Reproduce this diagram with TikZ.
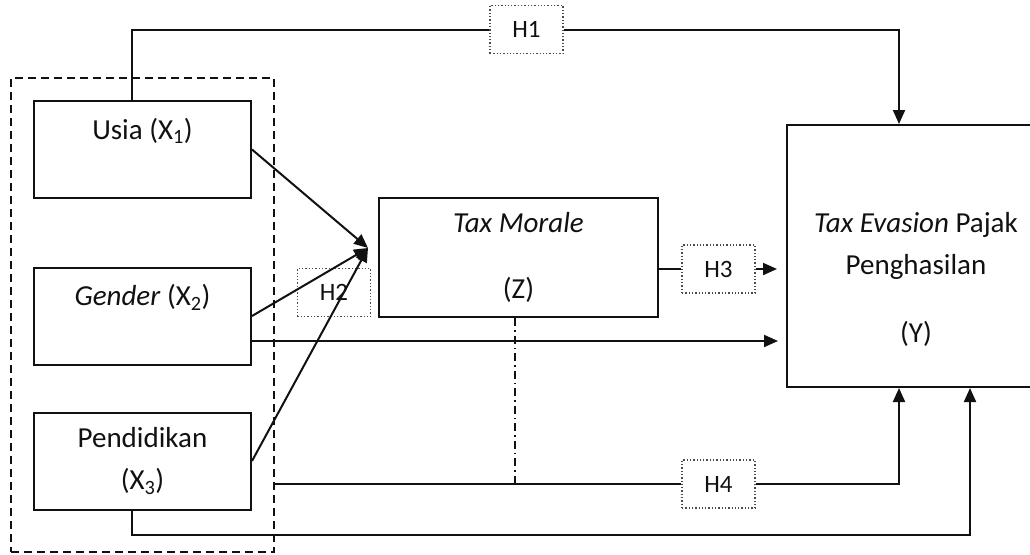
\documentclass[tikz,border=0pt]{standalone}
\usepackage{fontspec}
\setmainfont{Carlito}
\usetikzlibrary{arrows.meta,positioning,calc}
\definecolor{DiagramInk}{HTML}{111111}
\definecolor{DiagramDot}{HTML}{4A4A4A}

\begin{document}
\begin{tikzpicture}[x=1pt,y=-1pt,
  varbox/.style={draw=DiagramInk,line width=2pt,align=center,text=DiagramInk,inner sep=0pt,font=\fontsize{29}{42}\selectfont},
  hbox/.style={draw=DiagramDot,line width=1.3pt,dotted,minimum width=73pt,minimum height=48pt,text=DiagramInk,font=\fontsize{25}{28}\selectfont},
  groupbox/.style={draw=DiagramInk,line width=2pt,dash pattern=on 8pt off 5pt,minimum width=263pt,minimum height=474pt},
  link/.style={DiagramInk,line width=2pt},
  arr/.style={link,-{Triangle[length=14pt,width=12pt]}}]
  \useasboundingbox (0,0) rectangle (1030,554);
  \clip (0,0) rectangle (1030,554);
  \node[groupbox] (grp) at (142.5,315) {};
  \node[varbox,minimum width=217pt,minimum height=97pt] (usia) at (142.5,149.5) {Usia (X\textsubscript{1})\\~};
  \node[varbox,minimum width=217pt,minimum height=97pt] (gender) at (142.5,316) {\textit{Gender} (X\textsubscript{2})\\~};
  \node[varbox,minimum width=217pt,minimum height=97pt] (pend) at (142.5,461) {Pendidikan\\(X\textsubscript{3})};
  \node[varbox,minimum width=279pt,minimum height=119pt] (morale) at (518.5,257.5) {\textit{Tax Morale}\\[24pt](Z)};
  \node[varbox,minimum width=258pt,minimum height=262pt,
    label={[align=center,text=DiagramInk,font=\fontsize{29}{42}\selectfont,yshift=-23pt]center:{\textit{Tax Evasion} Pajak\\Penghasilan\\[26pt](Y)}}] (yv) at (916,256) {};
  \node[hbox] (h1) at (526.5,29.5) {H1};
  \node[hbox] (h2) at (334,292.5) {H2};
  \node[hbox] (h3) at (718.5,269) {H3};
  \node[hbox] (h4) at (718.5,484) {H4};
  \coordinate (zin) at (368,248);
  \draw[link] ([xshift=-11pt]usia.north) |- (h1.west);
  \draw[arr] (h1.east) -| ([xshift=-17pt]yv.north);
  \foreach \v in {usia,gender,pend}{\draw[arr] (\v.east) -- (zin);}
  \draw[arr,shorten >=8pt] ([yshift=-25pt]gender.east) -- ([yshift=-25pt]gender.east -| yv.west);
  \draw[link] (morale.east |- h3.west) -- (h3.west);
  \draw[arr,shorten >=9pt] (h3.east) -- (h3.east -| yv.west);
  \draw[link,dash pattern=on 8pt off 4pt on 1.5pt off 4pt] ([xshift=-3.5pt]morale.south) -- ([xshift=-3.5pt]morale.south |- h4.west);
  \draw[link] (grp.east |- h4.west) -- (h4.west);
  \draw[arr] (h4.east) -| ([xshift=-17pt]yv.south);
  \draw[arr] ([xshift=-11pt]pend.south) -- ++(0,24) -| ([xshift=54pt]yv.south);
\end{tikzpicture}
\end{document}
